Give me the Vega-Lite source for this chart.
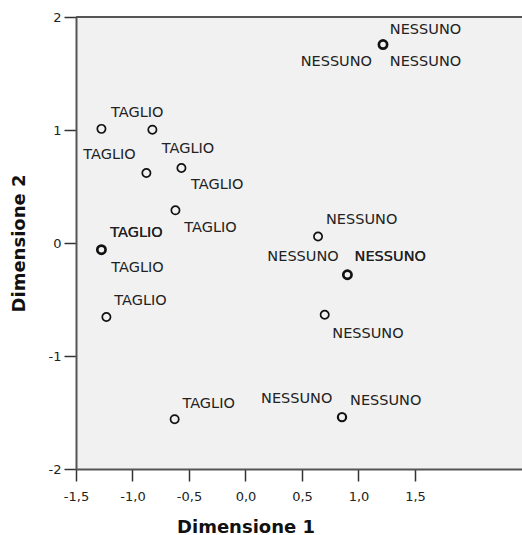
{
  "$schema": "https://vega.github.io/schema/vega-lite/v6.json",
  "width": 446,
  "height": 452,
  "autosize": {"type": "none"},
  "padding": {"left": 76, "top": 17, "right": 0, "bottom": 66},
  "background": "white",
  "config": {"view": {"fill": "#f1f1f1", "stroke": null}, "font": "DejaVu Sans"},
  "datasets": {
    "points": [
      {"x": -1.275, "y": 1.01, "group": "TAGLIO"},
      {"x": -0.824, "y": 1.003, "group": "TAGLIO"},
      {"x": -0.877, "y": 0.62, "group": "TAGLIO"},
      {"x": -0.567, "y": 0.664, "group": "TAGLIO"},
      {"x": -0.62, "y": 0.289, "group": "TAGLIO"},
      {"x": -1.275, "y": -0.059, "group": "TAGLIO"},
      {"x": -1.275, "y": -0.059, "group": "TAGLIO"},
      {"x": -1.275, "y": -0.059, "group": "TAGLIO"},
      {"x": -1.231, "y": -0.655, "group": "TAGLIO"},
      {"x": -0.627, "y": -1.559, "group": "TAGLIO"},
      {"x": 1.217, "y": 1.756, "group": "NESSUNO"},
      {"x": 1.217, "y": 1.756, "group": "NESSUNO"},
      {"x": 1.217, "y": 1.756, "group": "NESSUNO"},
      {"x": 0.642, "y": 0.058, "group": "NESSUNO"},
      {"x": 0.902, "y": -0.281, "group": "NESSUNO"},
      {"x": 0.902, "y": -0.281, "group": "NESSUNO"},
      {"x": 0.902, "y": -0.281, "group": "NESSUNO"},
      {"x": 0.701, "y": -0.635, "group": "NESSUNO"},
      {"x": 0.854, "y": -1.541, "group": "NESSUNO"},
      {"x": 0.854, "y": -1.541, "group": "NESSUNO"}
    ],
    "labels": [
      {"x": -0.958, "y": 1.154, "label": "TAGLIO"},
      {"x": -1.204, "y": 0.782, "label": "TAGLIO"},
      {"x": -0.509, "y": 0.833, "label": "TAGLIO"},
      {"x": -0.25, "y": 0.516, "label": "TAGLIO"},
      {"x": -0.31, "y": 0.133, "label": "TAGLIO"},
      {"x": -0.965, "y": 0.085, "label": "TAGLIO"},
      {"x": -0.965, "y": 0.085, "label": "TAGLIO"},
      {"x": -0.956, "y": -0.221, "label": "TAGLIO"},
      {"x": -0.929, "y": -0.517, "label": "TAGLIO"},
      {"x": -0.326, "y": -1.423, "label": "TAGLIO"},
      {"x": 1.593, "y": 1.889, "label": "NESSUNO"},
      {"x": 0.804, "y": 1.6, "label": "NESSUNO"},
      {"x": 1.593, "y": 1.6, "label": "NESSUNO"},
      {"x": 1.028, "y": 0.206, "label": "NESSUNO"},
      {"x": 0.509, "y": -0.124, "label": "NESSUNO"},
      {"x": 1.281, "y": -0.124, "label": "NESSUNO"},
      {"x": 1.281, "y": -0.124, "label": "NESSUNO"},
      {"x": 1.084, "y": -0.803, "label": "NESSUNO"},
      {"x": 0.453, "y": -1.382, "label": "NESSUNO"},
      {"x": 1.241, "y": -1.394, "label": "NESSUNO"}
    ]
  },
  "layer": [
    {
      "data": {"values": [{}]},
      "mark": {"type": "rule", "color": "#555", "strokeWidth": 2},
      "encoding": {"y": {"datum": 2, "type": "quantitative", "scale": {"domain": [-2, 2], "nice": false, "zero": false}}}
    },
    {
      "data": {"name": "points"},
      "transform": [{"aggregate": [{"op": "count", "as": "n"}], "groupby": ["x", "y", "group"]}],
      "mark": {"type": "point", "shape": "circle", "filled": false, "color": "#111", "opacity": 1, "size": 68},
      "encoding": {
        "x": {
          "field": "x", "type": "quantitative",
          "scale": {"domain": [-1.5, 2.447], "nice": false, "zero": false},
          "axis": {
            "title": "Dimensione 1",
            "values": [-1.5, -1, -0.5, 0, 0.5, 1, 1.5],
            "labelExpr": "replace(replace(format(datum.value, '.1f'), '.', ','), '\u2212', '-')",
            "grid": false, "tickSize": 12, "tickColor": "#333", "tickWidth": 1.5,
            "domainColor": "#555", "domainWidth": 2,
            "labelFont": "DejaVu Sans", "labelFontSize": 13, "labelColor": "#222", "labelPadding": 9,
            "labelFlush": false, "labelOverlap": false,
            "titleFont": "DejaVu Sans", "titleFontSize": 18, "titleFontWeight": "bold", "titleColor": "#111",
            "titleX": 169.5, "titleY": 63, "titleBaseline": "alphabetic", "titleAlign": "center"
          }
        },
        "y": {
          "field": "y", "type": "quantitative",
          "scale": {"domain": [-2, 2], "nice": false, "zero": false},
          "axis": {
            "title": "Dimensione 2",
            "values": [-2, -1, 0, 1, 2],
            "labelExpr": "replace(format(datum.value, 'd'), '\u2212', '-')",
            "grid": false, "tickSize": 12, "tickColor": "#333", "tickWidth": 1.5,
            "domainColor": "#555", "domainWidth": 2,
            "labelFont": "DejaVu Sans", "labelFontSize": 13, "labelColor": "#222", "labelPadding": 3,
            "labelFlush": false, "labelOverlap": false,
            "titleFont": "DejaVu Sans", "titleFontSize": 18, "titleFontWeight": "bold", "titleColor": "#111",
            "titleX": -57, "titleY": 226, "titleAngle": -90, "titleBaseline": "middle", "titleAlign": "center"
          }
        },
        "strokeWidth": {"field": "n", "type": "quantitative", "scale": {"domain": [1, 3], "range": [1.7, 2.7]}, "legend": null}
      }
    },
    {
      "data": {"name": "labels"},
      "mark": {"type": "text", "font": "DejaVu Sans", "fontSize": 14.5, "color": "#222", "align": "center", "baseline": "middle"},
      "encoding": {
        "x": {"field": "x", "type": "quantitative"},
        "y": {"field": "y", "type": "quantitative"},
        "text": {"field": "label"}
      }
    }
  ]
}
